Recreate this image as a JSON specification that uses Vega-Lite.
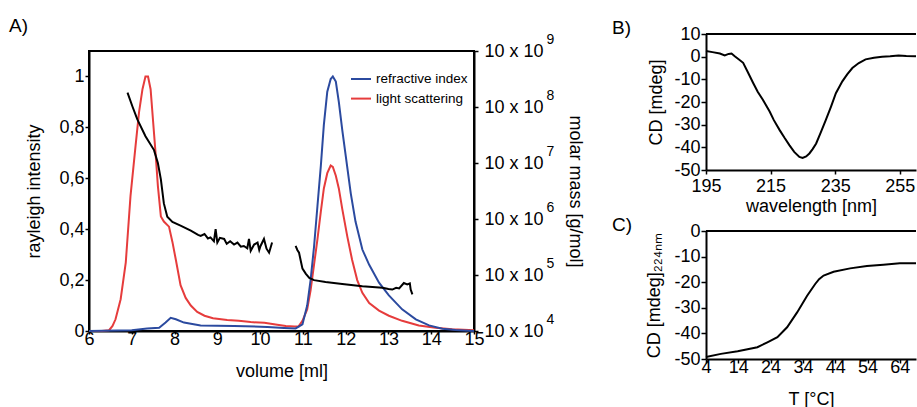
{
  "$schema": "https://vega.github.io/schema/vega-lite/v6.json",
  "padding": {"left": 8, "top": 16, "right": 0, "bottom": 0},
  "config": {
    "font": "Liberation Sans",
    "view": {"stroke": "black", "strokeWidth": 2},
    "axis": {"domainColor": "black", "domainWidth": 2, "tickColor": "black", "tickWidth": 1.5, "tickSize": 4, "labelFont": "Liberation Sans", "labelFontSize": 18, "labelColor": "black", "titleFont": "Liberation Sans", "titleFontSize": 18, "titleFontWeight": "normal", "titleColor": "black", "grid": false, "labelPadding": 1, "labelFlush": false, "labelOverlap": false},
    "title": {"font": "Liberation Sans", "fontSize": 19, "fontWeight": "normal", "color": "black", "anchor": "start", "frame": "group"}
  },
  "datasets": {
    "sec": [
      {"volume": 6.0, "intensity": 0, "signal": "light scattering"},
      {"volume": 6.3, "intensity": 0, "signal": "light scattering"},
      {"volume": 6.47, "intensity": 0.003, "signal": "light scattering"},
      {"volume": 6.55, "intensity": 0.02, "signal": "light scattering"},
      {"volume": 6.62, "intensity": 0.046, "signal": "light scattering"},
      {"volume": 6.74, "intensity": 0.125, "signal": "light scattering"},
      {"volume": 6.86, "intensity": 0.27, "signal": "light scattering"},
      {"volume": 6.97, "intensity": 0.53, "signal": "light scattering"},
      {"volume": 7.09, "intensity": 0.73, "signal": "light scattering"},
      {"volume": 7.17, "intensity": 0.86, "signal": "light scattering"},
      {"volume": 7.25, "intensity": 0.95, "signal": "light scattering"},
      {"volume": 7.32, "intensity": 1.0, "signal": "light scattering"},
      {"volume": 7.38, "intensity": 1.0, "signal": "light scattering"},
      {"volume": 7.44, "intensity": 0.95, "signal": "light scattering"},
      {"volume": 7.5, "intensity": 0.82, "signal": "light scattering"},
      {"volume": 7.56, "intensity": 0.69, "signal": "light scattering"},
      {"volume": 7.61, "intensity": 0.57, "signal": "light scattering"},
      {"volume": 7.68, "intensity": 0.45, "signal": "light scattering"},
      {"volume": 7.75, "intensity": 0.43, "signal": "light scattering"},
      {"volume": 7.87, "intensity": 0.41, "signal": "light scattering"},
      {"volume": 7.95, "intensity": 0.35, "signal": "light scattering"},
      {"volume": 8.03, "intensity": 0.28, "signal": "light scattering"},
      {"volume": 8.14, "intensity": 0.18, "signal": "light scattering"},
      {"volume": 8.26, "intensity": 0.13, "signal": "light scattering"},
      {"volume": 8.38, "intensity": 0.1, "signal": "light scattering"},
      {"volume": 8.53, "intensity": 0.075, "signal": "light scattering"},
      {"volume": 8.7, "intensity": 0.06, "signal": "light scattering"},
      {"volume": 8.9, "intensity": 0.05, "signal": "light scattering"},
      {"volume": 9.23, "intensity": 0.043, "signal": "light scattering"},
      {"volume": 9.5, "intensity": 0.04, "signal": "light scattering"},
      {"volume": 9.78, "intensity": 0.035, "signal": "light scattering"},
      {"volume": 10.1, "intensity": 0.032, "signal": "light scattering"},
      {"volume": 10.4, "intensity": 0.025, "signal": "light scattering"},
      {"volume": 10.6, "intensity": 0.02, "signal": "light scattering"},
      {"volume": 10.8, "intensity": 0.018, "signal": "light scattering"},
      {"volume": 10.9, "intensity": 0.018, "signal": "light scattering"},
      {"volume": 10.99, "intensity": 0.04, "signal": "light scattering"},
      {"volume": 11.1, "intensity": 0.085, "signal": "light scattering"},
      {"volume": 11.18, "intensity": 0.16, "signal": "light scattering"},
      {"volume": 11.26, "intensity": 0.26, "signal": "light scattering"},
      {"volume": 11.34, "intensity": 0.36, "signal": "light scattering"},
      {"volume": 11.42, "intensity": 0.47, "signal": "light scattering"},
      {"volume": 11.49, "intensity": 0.56, "signal": "light scattering"},
      {"volume": 11.57, "intensity": 0.62, "signal": "light scattering"},
      {"volume": 11.65, "intensity": 0.65, "signal": "light scattering"},
      {"volume": 11.7, "intensity": 0.645, "signal": "light scattering"},
      {"volume": 11.77, "intensity": 0.61, "signal": "light scattering"},
      {"volume": 11.84, "intensity": 0.56, "signal": "light scattering"},
      {"volume": 11.92, "intensity": 0.48, "signal": "light scattering"},
      {"volume": 12.04, "intensity": 0.37, "signal": "light scattering"},
      {"volume": 12.15, "intensity": 0.28, "signal": "light scattering"},
      {"volume": 12.27, "intensity": 0.2, "signal": "light scattering"},
      {"volume": 12.39, "intensity": 0.15, "signal": "light scattering"},
      {"volume": 12.55, "intensity": 0.11, "signal": "light scattering"},
      {"volume": 12.78, "intensity": 0.08, "signal": "light scattering"},
      {"volume": 13.01, "intensity": 0.06, "signal": "light scattering"},
      {"volume": 13.32, "intensity": 0.04, "signal": "light scattering"},
      {"volume": 13.71, "intensity": 0.022, "signal": "light scattering"},
      {"volume": 14.1, "intensity": 0.013, "signal": "light scattering"},
      {"volume": 14.49, "intensity": 0.007, "signal": "light scattering"},
      {"volume": 14.88, "intensity": 0.004, "signal": "light scattering"},
      {"volume": 15.0, "intensity": 0.003, "signal": "light scattering"},
      {"volume": 6.0, "intensity": 0, "signal": "refractive index"},
      {"volume": 7.0, "intensity": 0.003, "signal": "refractive index"},
      {"volume": 7.36, "intensity": 0.01, "signal": "refractive index"},
      {"volume": 7.64, "intensity": 0.013, "signal": "refractive index"},
      {"volume": 7.79, "intensity": 0.033, "signal": "refractive index"},
      {"volume": 7.91, "intensity": 0.052, "signal": "refractive index"},
      {"volume": 8.03, "intensity": 0.046, "signal": "refractive index"},
      {"volume": 8.22, "intensity": 0.033, "signal": "refractive index"},
      {"volume": 8.61, "intensity": 0.022, "signal": "refractive index"},
      {"volume": 9.39, "intensity": 0.02, "signal": "refractive index"},
      {"volume": 10.17, "intensity": 0.016, "signal": "refractive index"},
      {"volume": 10.56, "intensity": 0.012, "signal": "refractive index"},
      {"volume": 10.83, "intensity": 0.01, "signal": "refractive index"},
      {"volume": 10.99, "intensity": 0.026, "signal": "refractive index"},
      {"volume": 11.1, "intensity": 0.1, "signal": "refractive index"},
      {"volume": 11.18, "intensity": 0.2, "signal": "refractive index"},
      {"volume": 11.26, "intensity": 0.33, "signal": "refractive index"},
      {"volume": 11.34, "intensity": 0.49, "signal": "refractive index"},
      {"volume": 11.42, "intensity": 0.65, "signal": "refractive index"},
      {"volume": 11.49, "intensity": 0.81, "signal": "refractive index"},
      {"volume": 11.57, "intensity": 0.94, "signal": "refractive index"},
      {"volume": 11.65, "intensity": 0.99, "signal": "refractive index"},
      {"volume": 11.7, "intensity": 1.0, "signal": "refractive index"},
      {"volume": 11.77, "intensity": 0.98, "signal": "refractive index"},
      {"volume": 11.84, "intensity": 0.9, "signal": "refractive index"},
      {"volume": 11.92, "intensity": 0.79, "signal": "refractive index"},
      {"volume": 12.0, "intensity": 0.69, "signal": "refractive index"},
      {"volume": 12.12, "intensity": 0.54, "signal": "refractive index"},
      {"volume": 12.23, "intensity": 0.43, "signal": "refractive index"},
      {"volume": 12.39, "intensity": 0.32, "signal": "refractive index"},
      {"volume": 12.55, "intensity": 0.26, "signal": "refractive index"},
      {"volume": 12.78, "intensity": 0.19, "signal": "refractive index"},
      {"volume": 13.01, "intensity": 0.14, "signal": "refractive index"},
      {"volume": 13.32, "intensity": 0.085, "signal": "refractive index"},
      {"volume": 13.64, "intensity": 0.046, "signal": "refractive index"},
      {"volume": 13.95, "intensity": 0.022, "signal": "refractive index"},
      {"volume": 14.26, "intensity": 0.009, "signal": "refractive index"},
      {"volume": 14.57, "intensity": 0.004, "signal": "refractive index"},
      {"volume": 14.88, "intensity": 0.001, "signal": "refractive index"},
      {"volume": 15.0, "intensity": 0, "signal": "refractive index"}
    ],
    "mass": [
      {"volume": 6.9, "molarMass": 1.8e9, "segment": 1},
      {"volume": 7.02, "molarMass": 1.0e9, "segment": 1},
      {"volume": 7.13, "molarMass": 6.0e8, "segment": 1},
      {"volume": 7.32, "molarMass": 3.0e8, "segment": 1},
      {"volume": 7.52, "molarMass": 1.7e8, "segment": 1},
      {"volume": 7.61, "molarMass": 1.0e8, "segment": 1},
      {"volume": 7.68, "molarMass": 5.1e7, "segment": 1},
      {"volume": 7.75, "molarMass": 1.9e7, "segment": 1},
      {"volume": 7.83, "molarMass": 1.1e7, "segment": 1},
      {"volume": 7.95, "molarMass": 8.9e6, "segment": 1},
      {"volume": 8.14, "molarMass": 7.6e6, "segment": 1},
      {"volume": 8.38, "molarMass": 6.2e6, "segment": 1},
      {"volume": 8.55, "molarMass": 5.2e6, "segment": 1},
      {"volume": 8.61, "molarMass": 5.0e6, "segment": 1},
      {"volume": 8.7, "molarMass": 5.4e6, "segment": 1},
      {"volume": 8.78, "molarMass": 4.5e6, "segment": 1},
      {"volume": 8.84, "molarMass": 4.7e6, "segment": 1},
      {"volume": 8.92, "molarMass": 4.0e6, "segment": 1},
      {"volume": 8.96, "molarMass": 6.6e6, "segment": 1},
      {"volume": 9.0, "molarMass": 3.8e6, "segment": 1},
      {"volume": 9.06, "molarMass": 4.6e6, "segment": 1},
      {"volume": 9.16, "molarMass": 4.4e6, "segment": 1},
      {"volume": 9.22, "molarMass": 3.6e6, "segment": 1},
      {"volume": 9.3, "molarMass": 4.0e6, "segment": 1},
      {"volume": 9.39, "molarMass": 3.5e6, "segment": 1},
      {"volume": 9.47, "molarMass": 3.8e6, "segment": 1},
      {"volume": 9.55, "molarMass": 3.2e6, "segment": 1},
      {"volume": 9.62, "molarMass": 3.3e6, "segment": 1},
      {"volume": 9.7, "molarMass": 3.0e6, "segment": 1},
      {"volume": 9.74, "molarMass": 4.4e6, "segment": 1},
      {"volume": 9.78, "molarMass": 2.7e6, "segment": 1},
      {"volume": 9.86, "molarMass": 3.5e6, "segment": 1},
      {"volume": 9.94, "molarMass": 3.8e6, "segment": 1},
      {"volume": 9.98, "molarMass": 2.8e6, "segment": 1},
      {"volume": 10.01, "molarMass": 3.3e6, "segment": 1},
      {"volume": 10.09, "molarMass": 4.4e6, "segment": 1},
      {"volume": 10.15, "molarMass": 2.95e6, "segment": 1},
      {"volume": 10.21, "molarMass": 2.5e6, "segment": 1},
      {"volume": 10.28, "molarMass": 3.8e6, "segment": 1},
      {"volume": 10.83, "molarMass": 3.3e6, "segment": 2},
      {"volume": 10.87, "molarMass": 2.8e6, "segment": 2},
      {"volume": 10.91, "molarMass": 2.5e6, "segment": 2},
      {"volume": 10.95, "molarMass": 1.8e6, "segment": 2},
      {"volume": 10.99, "molarMass": 1.3e6, "segment": 2},
      {"volume": 11.07, "molarMass": 1.05e6, "segment": 2},
      {"volume": 11.15, "molarMass": 8.9e5, "segment": 2},
      {"volume": 11.26, "molarMass": 8.1e5, "segment": 2},
      {"volume": 11.53, "molarMass": 7.5e5, "segment": 2},
      {"volume": 11.92, "molarMass": 6.9e5, "segment": 2},
      {"volume": 12.39, "molarMass": 6.3e5, "segment": 2},
      {"volume": 12.86, "molarMass": 5.9e5, "segment": 2},
      {"volume": 13.0, "molarMass": 5.6e5, "segment": 2},
      {"volume": 13.09, "molarMass": 5.5e5, "segment": 2},
      {"volume": 13.18, "molarMass": 5.9e5, "segment": 2},
      {"volume": 13.25, "molarMass": 5.75e5, "segment": 2},
      {"volume": 13.36, "molarMass": 7.2e5, "segment": 2},
      {"volume": 13.44, "molarMass": 6.8e5, "segment": 2},
      {"volume": 13.5, "molarMass": 7.1e5, "segment": 2},
      {"volume": 13.52, "molarMass": 5.5e5, "segment": 2},
      {"volume": 13.56, "molarMass": 4.5e5, "segment": 2}
    ],
    "massTicks": [
      {"molarMass": 1e5}, {"molarMass": 1e6}, {"molarMass": 1e7}, {"molarMass": 1e8}, {"molarMass": 1e9}, {"molarMass": 1e10}
    ],
    "spectrum": [
      {"wavelength": 195, "cd": 2.5}, {"wavelength": 197, "cd": 2.0}, {"wavelength": 199.3, "cd": 1.4},
      {"wavelength": 200.8, "cd": 0.5}, {"wavelength": 202, "cd": 1.2}, {"wavelength": 202.9, "cd": 1.4},
      {"wavelength": 203.9, "cd": 0.2}, {"wavelength": 205, "cd": -1.0}, {"wavelength": 206.5, "cd": -2.7},
      {"wavelength": 208, "cd": -7}, {"wavelength": 209.6, "cd": -11.6}, {"wavelength": 211, "cd": -15.5},
      {"wavelength": 212.6, "cd": -19}, {"wavelength": 214.7, "cd": -24.2}, {"wavelength": 216, "cd": -28},
      {"wavelength": 217.8, "cd": -32.4}, {"wavelength": 219.3, "cd": -35.8}, {"wavelength": 220.8, "cd": -39},
      {"wavelength": 222.3, "cd": -42}, {"wavelength": 223.9, "cd": -44.2}, {"wavelength": 224.9, "cd": -44.7},
      {"wavelength": 226, "cd": -44}, {"wavelength": 227, "cd": -42.7}, {"wavelength": 228, "cd": -40.8},
      {"wavelength": 229.1, "cd": -38.3}, {"wavelength": 230.5, "cd": -33.5}, {"wavelength": 232.1, "cd": -27.9},
      {"wavelength": 233.7, "cd": -22}, {"wavelength": 235.2, "cd": -16.1}, {"wavelength": 237.2, "cd": -10.9},
      {"wavelength": 238.7, "cd": -7.8}, {"wavelength": 240.3, "cd": -5}, {"wavelength": 242.3, "cd": -2.8},
      {"wavelength": 244.4, "cd": -1.2}, {"wavelength": 247, "cd": -0.5}, {"wavelength": 249.5, "cd": 0},
      {"wavelength": 252, "cd": 0.2}, {"wavelength": 254.6, "cd": 0.5}, {"wavelength": 257, "cd": 0.3},
      {"wavelength": 260, "cd": 0.2}
    ],
    "melt": [
      {"temperature": 4, "cd": -49.2}, {"temperature": 8.6, "cd": -48}, {"temperature": 13.8, "cd": -47},
      {"temperature": 19.9, "cd": -45.4}, {"temperature": 23, "cd": -43.5}, {"temperature": 26.1, "cd": -41.5},
      {"temperature": 29.1, "cd": -37.6}, {"temperature": 32.2, "cd": -31.8}, {"temperature": 35.3, "cd": -25.3},
      {"temperature": 37.8, "cd": -20.7}, {"temperature": 39, "cd": -18.8}, {"temperature": 40.4, "cd": -17.4},
      {"temperature": 43.5, "cd": -15.9}, {"temperature": 48.6, "cd": -14.6}, {"temperature": 53.8, "cd": -13.7},
      {"temperature": 58.9, "cd": -13.2}, {"temperature": 64, "cd": -12.6}, {"temperature": 69, "cd": -12.6}
    ]
  },
  "spacing": 27,
  "hconcat": [
    {
      "bounds": "flush",
      "spacing": 16,
      "vconcat": [
        {
          "width": 385, "height": 1,
          "view": {"stroke": null},
          "data": {"values": [{}]},
          "mark": {"type": "text"},
          "encoding": {"text": {"value": ""}}
        },
        {
          "width": 385, "height": 280,
          "title": {"text": "A)", "dx": -80, "dy": 8},
          "layer": [
            {
              "data": {"name": "sec"},
              "mark": {"type": "line", "strokeWidth": 2},
              "encoding": {
                "x": {"field": "volume", "type": "quantitative", "scale": {"domain": [6, 15], "nice": false},
                      "axis": {"title": "volume [ml]", "values": [6, 7, 8, 9, 10, 11, 12, 13, 14, 15], "format": "d", "tickSize": 3, "labelPadding": -4, "titlePadding": 14, "labelOverlap": false}},
                "y": {"field": "intensity", "type": "quantitative", "scale": {"domain": [0, 1.1], "nice": false},
                      "axis": {"orient": "left", "title": "rayleigh intensity", "values": [0, 0.2, 0.4, 0.6, 0.8, 1], "labelExpr": "replace(format(datum.value, '.1~f'), '.', ',')", "titlePadding": 15, "labelOverlap": false}},
                "color": {"field": "signal", "type": "nominal",
                          "scale": {"domain": ["refractive index", "light scattering"], "range": ["#2b4a9f", "#e63c3c"]},
                          "legend": {"orient": "none", "legendX": 261, "legendY": 34, "title": null, "symbolType": "stroke", "symbolSize": 400, "symbolStrokeWidth": 2, "labelFontSize": 13.5, "labelFont": "Liberation Sans", "labelColor": "black", "labelOffset": 4, "rowPadding": 1.6, "padding": 0}}
              }
            },
            {
              "data": {"name": "mass"},
              "mark": {"type": "line", "color": "black", "strokeWidth": 2},
              "encoding": {
                "x": {"field": "volume", "type": "quantitative"},
                "y": {"field": "molarMass", "type": "quantitative", "scale": {"type": "log", "domain": [1e5, 1e10], "nice": false},
                      "axis": {"orient": "right", "title": "molar mass [g/mol]", "values": [1e5, 1e6, 1e7, 1e8, 1e9, 1e10], "labelExpr": "'10 x 10'", "labelPadding": 6, "titlePadding": 22, "labelOverlap": false}},
                "detail": {"field": "segment", "type": "nominal"}
              }
            },
            {
              "data": {"name": "massTicks"},
              "mark": {"type": "point", "opacity": 0},
              "encoding": {
                "y": {"field": "molarMass", "type": "quantitative", "scale": {"type": "log", "domain": [1e5, 1e10], "nice": false},
                      "axis": {"orient": "right", "title": null, "values": [1e5, 1e6, 1e7, 1e8, 1e9, 1e10], "domain": false, "ticks": false, "labelExpr": "format(round(log(datum.value) / LN10) - 1, 'd')", "labelFontSize": 14, "labelPadding": 72, "labelOffset": -12, "labelOverlap": false}}
              }
            }
          ],
          "resolve": {"scale": {"y": "independent"}}
        }
      ]
    },
    {
      "bounds": "flush",
      "spacing": 61,
      "vconcat": [
        {
          "width": 210, "height": 136,
          "view": {"stroke": null},
          "title": {"text": "B)", "dx": -94, "dy": 16.5},
          "layer": [
            {
              "data": {"name": "spectrum"},
              "mark": {"type": "line", "color": "black", "strokeWidth": 2},
              "encoding": {
                "x": {"field": "wavelength", "type": "quantitative", "scale": {"domain": [195, 260], "nice": false},
                      "axis": {"title": "wavelength [nm]", "values": [195, 215, 235, 255], "tickSize": 4, "labelPadding": 3.5, "titlePadding": 1.5, "labelOverlap": false}},
                "y": {"field": "cd", "type": "quantitative", "scale": {"domain": [-50, 10], "nice": false},
                      "axis": {"title": "CD [mdeg]", "values": [-50, -40, -30, -20, -10, 0, 10], "labelExpr": "'' + datum.value", "tickSize": 5, "titlePadding": 8, "labelOverlap": false}}
              }
            },
            {
              "data": {"values": [{}]},
              "mark": {"type": "rule", "color": "black", "strokeWidth": 2},
              "encoding": {"y": {"datum": 10, "type": "quantitative",
                      "axis": {"title": "CD [mdeg]", "values": [-50, -40, -30, -20, -10, 0, 10], "labelExpr": "'' + datum.value", "tickSize": 5, "titlePadding": 8, "labelOverlap": false}}}
            }
          ]
        },
        {
          "width": 210, "height": 128,
          "view": {"stroke": null},
          "title": {"text": "C)", "dx": -94, "dy": 17},
          "layer": [
            {
              "data": {"name": "melt"},
              "mark": {"type": "line", "color": "black", "strokeWidth": 2},
              "encoding": {
                "x": {"field": "temperature", "type": "quantitative", "scale": {"domain": [4, 69], "nice": false},
                      "axis": {"title": "T [°C]", "values": [4, 14, 24, 34, 44, 54, 64], "tickSize": 4, "labelPadding": -5, "titlePadding": 14.5, "labelOverlap": false}},
                "y": {"field": "cd", "type": "quantitative", "scale": {"domain": [-50, 0], "nice": false},
                      "axis": {"title": "CD [mdeg]₂₂₄ₙₘ", "values": [-50, -40, -30, -20, -10, 0], "labelExpr": "'' + datum.value", "tickSize": 5, "titlePadding": 10, "labelOverlap": false}}
              }
            },
            {
              "data": {"values": [{}]},
              "mark": {"type": "rule", "color": "black", "strokeWidth": 2},
              "encoding": {"y": {"datum": 0, "type": "quantitative",
                      "axis": {"title": "CD [mdeg]₂₂₄ₙₘ", "values": [-50, -40, -30, -20, -10, 0], "labelExpr": "'' + datum.value", "tickSize": 5, "titlePadding": 10, "labelOverlap": false}}}
            }
          ]
        }
      ]
    }
  ]
}
